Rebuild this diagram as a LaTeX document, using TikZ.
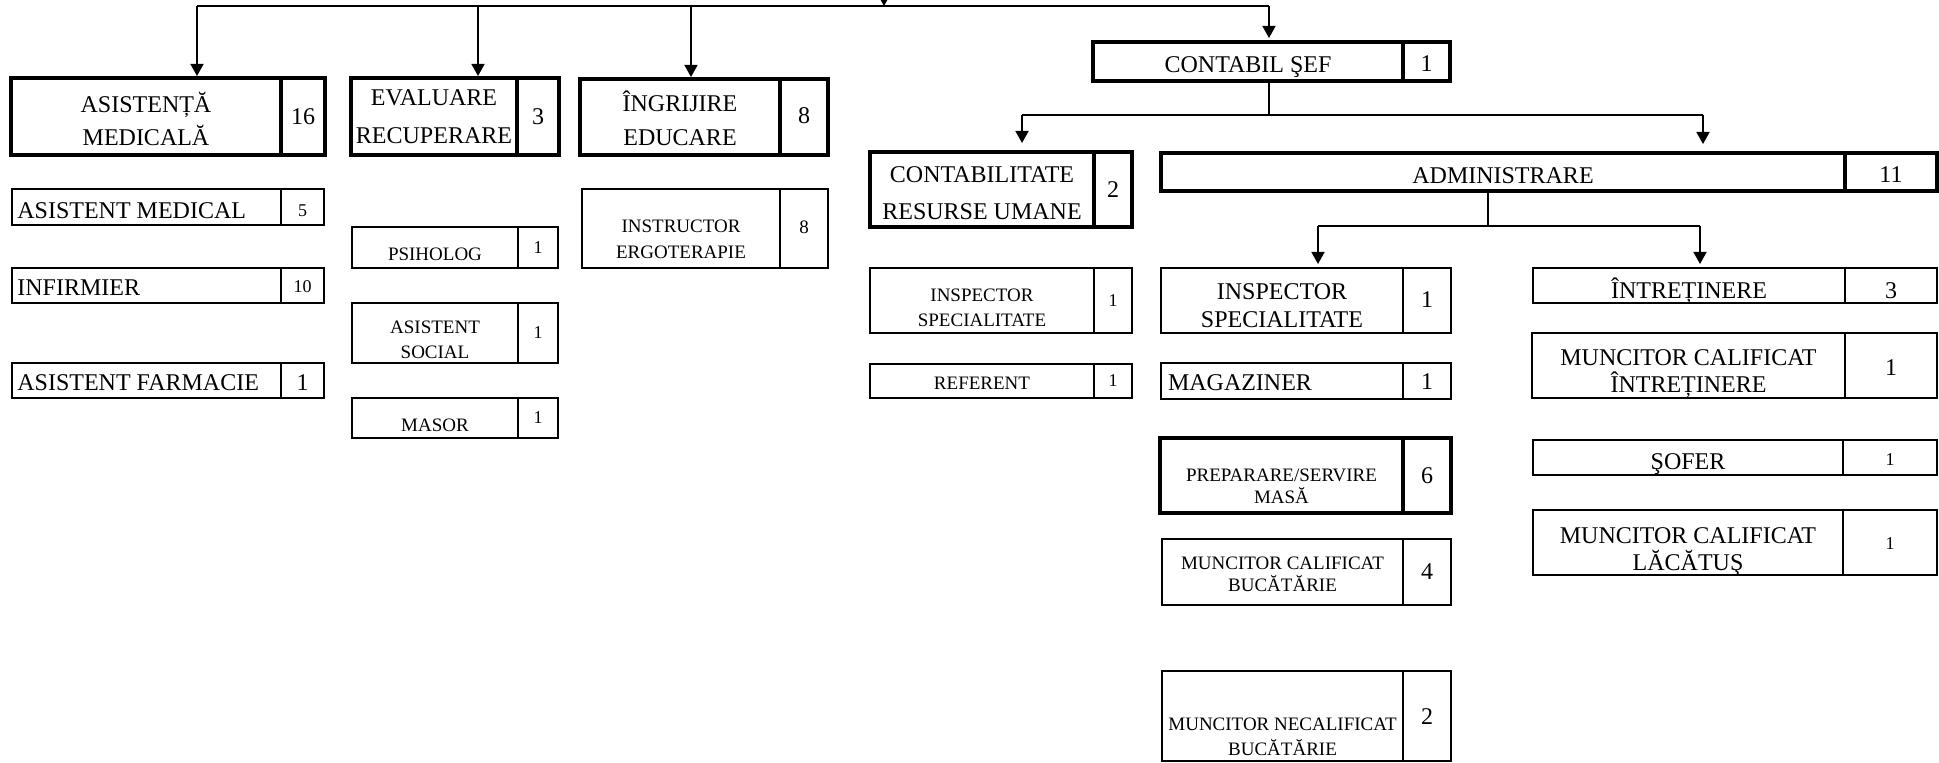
\documentclass[tikz,border=0pt]{standalone}
\usepackage{fontspec}
\setmainfont{Liberation Serif}
\usetikzlibrary{arrows.meta}
\tikzset{
  thickbox/.style={draw, rectangle, line width=2.2pt, inner sep=0pt, outer sep=0pt},
  thinbox/.style={draw, rectangle, line width=1.3pt, inner sep=0pt, outer sep=0pt},
  txt/.style={inner sep=0pt, align=center},
  big/.style={font=\fontsize{12}{#1}\selectfont}, big/.default=14,
  small/.style={font=\fontsize{9.5}{#1}\selectfont}, small/.default=12,
  nsmall/.style={font=\fontsize{9}{11}\selectfont},
  lft/.style={anchor=west, xshift=-\orghalf pt},
  conn/.style={line width=0.8pt},
  arr/.style={conn, -{Triangle[width=6.5pt,length=6pt]}},
}
\newcommand\orgbx[8]{%
  \pgfmathsetmacro\orgw{(#4-#3)*0.5}%
  \pgfmathsetmacro\orgh{(#6-#5)*0.5}%
  \pgfmathsetmacro\orghalf{(#4-#3)*0.25}%
  \node[#2, minimum width=\orgw pt, minimum height=\orgh pt, anchor=north west] (#1) at (#3,#5) {};%
  \node[txt, #7] (#1-t) at (#1.center) {#8};%
}
\begin{document}
\begin{tikzpicture}[x=0.5pt,y=-0.5pt]
\useasboundingbox (0,0) rectangle (1939,763);

% ---- left column
\orgbx{asist}{thickbox}{11}{281}{78}{155}{big=16.5,yshift=-1.25pt}{ASISTENȚĂ\\MEDICALĂ}
\orgbx{asistn}{thickbox}{281}{325}{78}{155}{big,yshift=-0.25pt}{16}
\orgbx{asmed}{thinbox}{12}{281}{189}{225}{big,lft,xshift=2.5pt,yshift=-1.75pt}{ASISTENT MEDICAL}
\orgbx{asmedn}{thinbox}{281}{324}{189}{225}{nsmall,yshift=-1.75pt}{5}
\orgbx{inf}{thinbox}{12}{281}{268}{303}{big,lft,xshift=2.5pt,yshift=-1.25pt}{INFIRMIER}
\orgbx{infn}{thinbox}{281}{324}{268}{303}{nsmall,yshift=-0.5pt}{10}
\orgbx{farm}{thinbox}{12}{281}{363}{398}{big,lft,xshift=2.5pt,yshift=-1.25pt}{ASISTENT FARMACIE}
\orgbx{farmn}{thinbox}{281}{324}{363}{398}{big,yshift=-1.25pt}{1}

% ---- evaluare
\orgbx{eval}{thickbox}{351}{517}{78}{155}{big=19}{EVALUARE\\RECUPERARE}
\orgbx{evaln}{thickbox}{517}{559}{78}{155}{big,yshift=-0.25pt}{3}
\orgbx{psih}{thinbox}{352}{518}{227}{268}{small,yshift=-3.25pt}{PSIHOLOG}
\orgbx{psihn}{thinbox}{518}{558}{227}{268}{nsmall}{1}
\orgbx{soc}{thinbox}{352}{518}{303}{363}{small=12.5,yshift=-3.25pt}{ASISTENT\\SOCIAL}
\orgbx{socn}{thinbox}{518}{558}{303}{363}{nsmall}{1}
\orgbx{mas}{thinbox}{352}{518}{398}{438}{small,yshift=-3.5pt}{MASOR}
\orgbx{masn}{thinbox}{518}{558}{398}{438}{nsmall}{1}

% ---- ingrijire
\orgbx{ingr}{thickbox}{580}{780}{79}{155}{big=17,yshift=-0.5pt}{ÎNGRIJIRE\\EDUCARE}
\orgbx{ingrn}{thickbox}{780}{828}{79}{155}{big,yshift=0.75pt}{8}
\orgbx{instr}{thinbox}{582}{780}{189}{268}{small=13,yshift=-5.4pt}{INSTRUCTOR\\ERGOTERAPIE}
\orgbx{instrn}{thinbox}{780}{828}{189}{268}{small,yshift=0.5pt}{8}

% ---- contabil
\orgbx{cs}{thickbox}{1093}{1403}{42}{81}{big,yshift=-2.75pt}{CONTABIL ŞEF}
\orgbx{csn}{thickbox}{1403}{1450}{42}{81}{big,yshift=-1.25pt}{1}
\orgbx{crum}{thickbox}{870}{1094}{152}{227}{big=18.5,yshift=-1.6pt}{CONTABILITATE\\RESURSE UMANE}
\orgbx{crumn}{thickbox}{1094}{1132}{152}{227}{big}{2}
\orgbx{insp1}{thinbox}{870}{1094}{268}{333}{small=12.5,yshift=-3.5pt}{INSPECTOR\\SPECIALITATE}
\orgbx{insp1n}{thinbox}{1094}{1132}{268}{333}{nsmall}{1}
\orgbx{ref}{thinbox}{870}{1094}{364}{398}{small,yshift=-1pt}{REFERENT}
\orgbx{refn}{thinbox}{1094}{1132}{364}{398}{nsmall}{1}

% ---- administrare
\orgbx{adm}{thickbox}{1161}{1845}{153}{191}{big,yshift=-1.75pt}{ADMINISTRARE}
\orgbx{admn}{thickbox}{1845}{1937}{153}{191}{big,yshift=-1.25pt}{11}
\orgbx{insp2}{thinbox}{1161}{1403}{268}{333}{big=14,yshift=-2.5pt}{INSPECTOR\\SPECIALITATE}
\orgbx{insp2n}{thinbox}{1403}{1451}{268}{333}{big,yshift=0.4pt}{1}
\orgbx{mag}{thinbox}{1161}{1403}{363}{399}{big,lft,xshift=3.3pt,yshift=-1pt}{MAGAZINER}
\orgbx{magn}{thinbox}{1403}{1451}{363}{399}{big,yshift=-0.5pt}{1}
\orgbx{prep}{thickbox}{1160}{1403}{438}{513}{small=11,yshift=-5.25pt}{PREPARARE/SERVIRE\\MASĂ}
\orgbx{prepn}{thickbox}{1403}{1451}{438}{513}{big}{6}
\orgbx{mcb}{thinbox}{1162}{1403}{539}{605}{small=11,yshift=-1pt}{MUNCITOR CALIFICAT\\BUCĂTĂRIE}
\orgbx{mcbn}{thinbox}{1403}{1451}{539}{605}{big}{4}
\orgbx{nec}{thinbox}{1162}{1403}{671}{761}{small=12.5,yshift=-10.5pt}{MUNCITOR NECALIFICAT\\BUCĂTĂRIE}
\orgbx{necn}{thinbox}{1403}{1451}{671}{761}{big,yshift=-0.5pt}{2}
\orgbx{intr}{thinbox}{1533}{1845}{268}{303}{big,yshift=-2.5pt}{ÎNTREȚINERE}
\orgbx{intrn}{thinbox}{1845}{1937}{268}{303}{big,yshift=-2.5pt}{3}
\orgbx{mci}{thinbox}{1532}{1845}{333}{398}{big=13.5,yshift=-4.25pt}{MUNCITOR CALIFICAT\\ÎNTREȚINERE}
\orgbx{mcin}{thinbox}{1845}{1937}{333}{398}{big,yshift=-1.25pt}{1}
\orgbx{sof}{thinbox}{1533}{1843}{440}{475}{big,yshift=-3.5pt}{ŞOFER}
\orgbx{sofn}{thinbox}{1843}{1937}{440}{475}{nsmall,yshift=-1.25pt}{1}
\orgbx{lac}{thinbox}{1533}{1843}{510}{575}{big=13.5,yshift=-4.5pt}{MUNCITOR CALIFICAT\\LĂCĂTUŞ}
\orgbx{lacn}{thinbox}{1843}{1937}{510}{575}{nsmall,yshift=-0.5pt}{1}

% ---- connectors, top level
\coordinate (tl) at (197,6);
\coordinate (tr) at (1269,6);
\coordinate (t2) at (478,6);
\coordinate (t3) at (691,6);
\coordinate (tin) at (884,-30);
\coordinate (tc) at (884,6);
\draw[conn] (tl) -- (tr);
\draw[arr] (tin) -- (tc);
\draw[arr, shorten >=1pt] (tl) -- (tl |- asist.north);
\draw[arr, shorten >=1pt] (t2) -- (t2 |- eval.north);
\draw[arr, shorten >=1pt] (t3) -- (t3 |- ingr.north);
\draw[arr, shorten >=2pt] (tr) -- (tr |- cs.north);

% ---- contabil sef children
\coordinate (cm) at (1269,115);
\coordinate (cl) at (1022,115);
\coordinate (cr) at (1703,115);
\draw[conn] (cm |- cs.south) -- (cm);
\draw[conn] (cl) -- (cr);
\draw[arr, shorten >=4.5pt] (cl) -- (cl |- crum.north);
\draw[arr, shorten >=4.5pt] (cr) -- (cr |- adm.north);

% ---- administrare children
\coordinate (am) at (1488,226);
\coordinate (al) at (1318,226);
\coordinate (ar) at (1700,226);
\draw[conn] (am |- adm.south) -- (am);
\draw[conn] (al) -- (ar);
\draw[arr, shorten >=2pt] (al) -- (al |- insp2.north);
\draw[arr, shorten >=2pt] (ar) -- (ar |- intr.north);
\end{tikzpicture}
\end{document}
